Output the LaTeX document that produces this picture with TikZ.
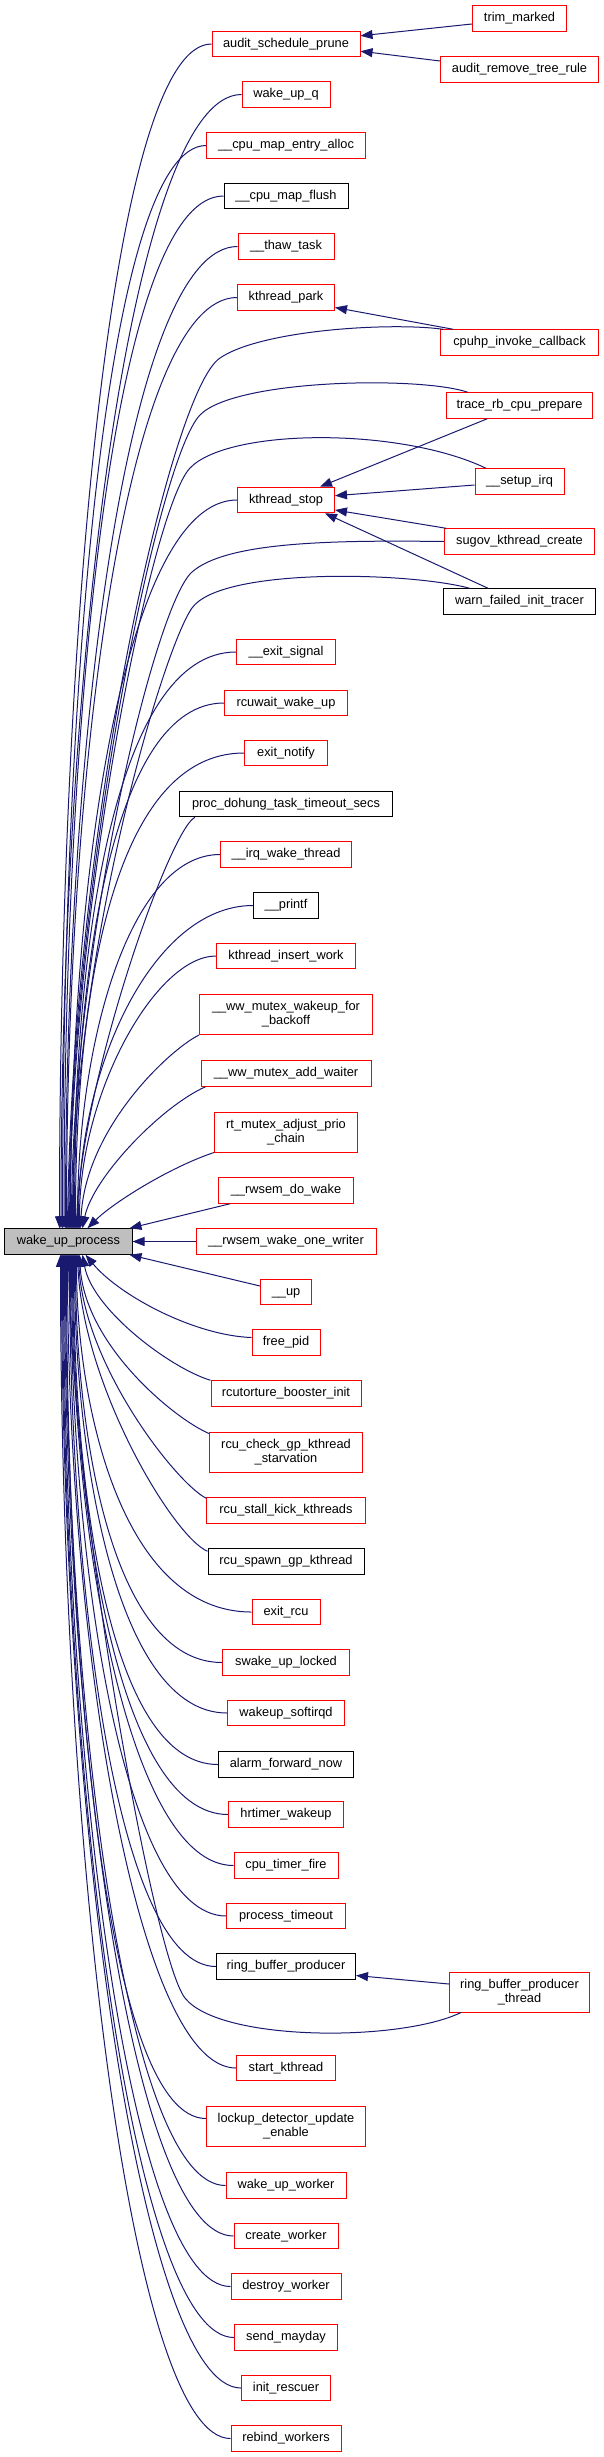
\documentclass[tikz,border=0pt]{standalone}
\usepackage{fontspec}
\setmainfont{Liberation Sans}
\usetikzlibrary{arrows.meta,calc}
\definecolor{edgeblue}{HTML}{191970}
\definecolor{boxred}{HTML}{FF0000}
\definecolor{rootgray}{HTML}{BFBFBF}
\newcommand\uped[4]{\draw[cg] (#1.west) .. controls +(-#3,0) and +(0,-#4) .. ([xshift=#2pt]wake.north west);}
\newcommand\dned[4]{\draw[cg] (#1.west) .. controls +(-#3,0) and +(0,#4) .. ([xshift=#2pt]wake.south west);}
\begin{document}
\begin{tikzpicture}[x=1pt,y=-1pt,
  basebox/.style={inner sep=0pt, line width=1pt, fill=white, font=\fontsize{12.8}{14}\selectfont},
  onebox/.style={basebox, minimum height=25.5pt, text height=9.3pt, text depth=2.7pt},
  twobox/.style={basebox, minimum height=40pt, align=center},
  rb/.style={draw=boxred},
  kb/.style={draw=black},
  cg/.style={draw=edgeblue, line width=1pt, -{Triangle[length=12pt,width=9pt]}},
]
\useasboundingbox (0,0) rectangle (604,2457);
% root
\node[onebox, draw=black, fill=rootgray, minimum width=127.3pt] (wake) at (68.35,1241.5) {wake\_up\_process};
% middle column
\node[onebox,rb,minimum width=148pt] (asp) at (286,44) {audit\_schedule\_prune};
\node[onebox,rb,minimum width=88pt] (wuq) at (286,94.5) {wake\_up\_q};
\node[onebox,rb,minimum width=158.5pt] (cmea) at (286,145.5) {\_\_cpu\_map\_entry\_alloc};
\node[onebox,kb,minimum width=124pt] (cmf) at (286,196) {\_\_cpu\_map\_flush};
\node[onebox,rb,minimum width=96pt] (thaw) at (286,246.5) {\_\_thaw\_task};
\node[onebox,rb,minimum width=97pt] (kpark) at (286,297.5) {kthread\_park};
\node[onebox,rb,minimum width=97pt] (kstop) at (286,500) {kthread\_stop};
\node[onebox,rb,minimum width=99pt] (exsig) at (286,652) {\_\_exit\_signal};
\node[onebox,rb,minimum width=123pt] (rcuw) at (286,703) {rcuwait\_wake\_up};
\node[onebox,rb,minimum width=83pt] (exnot) at (286,753) {exit\_notify};
\node[onebox,kb,minimum width=213pt] (pdh) at (286,804) {proc\_dohung\_task\_timeout\_secs};
\node[onebox,rb,minimum width=131pt] (irqw) at (286,854.5) {\_\_irq\_wake\_thread};
\node[onebox,kb,minimum width=65pt] (printf) at (286,905.5) {\_\_printf};
\node[onebox,rb,minimum width=139pt] (kiw) at (286,956) {kthread\_insert\_work};
\node[twobox,rb,minimum width=173pt] (wwwb) at (286,1014.5) {\_\_ww\_mutex\_wakeup\_for\\\_backoff};
\node[onebox,rb,minimum width=170pt] (wwaw) at (286,1073.5) {\_\_ww\_mutex\_add\_waiter};
\node[twobox,rb,minimum width=143pt] (rtm) at (286,1132) {rt\_mutex\_adjust\_prio\\\_chain};
\node[onebox,rb,minimum width=135pt] (rdw) at (286,1190.5) {\_\_rwsem\_do\_wake};
\node[onebox,rb,minimum width=180pt] (rwow) at (286,1241.5) {\_\_rwsem\_wake\_one\_writer};
\node[onebox,rb,minimum width=51pt] (up) at (286,1292) {\_\_up};
\node[onebox,rb,minimum width=68pt] (fpid) at (286,1342.5) {free\_pid};
\node[onebox,rb,minimum width=150pt] (rbi) at (286,1393.5) {rcutorture\_booster\_init};
\node[twobox,rb,minimum width=153pt] (rcgk) at (286,1452) {rcu\_check\_gp\_kthread\\\_starvation};
\node[onebox,rb,minimum width=158.5pt] (rskk) at (286,1510.5) {rcu\_stall\_kick\_kthreads};
\node[onebox,kb,minimum width=156pt] (rsgk) at (286,1561.5) {rcu\_spawn\_gp\_kthread};
\node[onebox,rb,minimum width=68pt] (exrcu) at (286,1612) {exit\_rcu};
\node[onebox,rb,minimum width=127pt] (swul) at (286,1662.5) {swake\_up\_locked};
\node[onebox,rb,minimum width=117pt] (wsirq) at (286,1713) {wakeup\_softirqd};
\node[onebox,kb,minimum width=135pt] (afn) at (286,1764.5) {alarm\_forward\_now};
\node[onebox,rb,minimum width=115pt] (hrw) at (286,1814.5) {hrtimer\_wakeup};
\node[onebox,rb,minimum width=104pt] (ctf) at (286,1865.5) {cpu\_timer\_fire};
\node[onebox,rb,minimum width=118.5pt] (pto) at (286,1916) {process\_timeout};
\node[onebox,kb,minimum width=139pt] (rbp) at (286,1966.5) {ring\_buffer\_producer};
\node[onebox,rb,minimum width=99pt] (sk) at (286,2068) {start\_kthread};
\node[twobox,rb,minimum width=159pt] (lde) at (286,2126.5) {lockup\_detector\_update\\\_enable};
\node[onebox,rb,minimum width=120pt] (wuw) at (286,2185.5) {wake\_up\_worker};
\node[onebox,rb,minimum width=104pt] (cw) at (286,2236) {create\_worker};
\node[onebox,rb,minimum width=110pt] (dw) at (286,2286.5) {destroy\_worker};
\node[onebox,rb,minimum width=103pt] (sm) at (286,2337.5) {send\_mayday};
\node[onebox,rb,minimum width=89pt] (ir) at (286,2388) {init\_rescuer};
\node[onebox,rb,minimum width=110pt] (rw) at (286,2438.5) {rebind\_workers};
% right column
\node[onebox,rb,minimum width=94.3pt] (trim) at (519.5,18.5) {trim\_marked};
\node[onebox,rb,minimum width=158pt] (arr) at (519.5,69.5) {audit\_remove\_tree\_rule};
\node[onebox,rb,minimum width=158pt] (cpuhp) at (519.5,342.5) {cpuhp\_invoke\_callback};
\node[onebox,rb,minimum width=146.5pt] (trbp) at (519.5,405.5) {trace\_rb\_cpu\_prepare};
\node[onebox,rb,minimum width=89pt] (sirq) at (519.5,481.5) {\_\_setup\_irq};
\node[onebox,rb,minimum width=150pt] (sugov) at (519.5,541.5) {sugov\_kthread\_create};
\node[onebox,kb,minimum width=152pt] (warn) at (519.5,601.5) {warn\_failed\_init\_tracer};
\node[twobox,rb,minimum width=140pt] (rbpt) at (519.5,1992) {ring\_buffer\_producer\\\_thread};
% right-to-middle edges
\draw[cg] ($(trim.west)+(0,5.5)$) -- ($(asp.east)+(0,-8.2)$);
\draw[cg] ($(arr.west)+(0,-8.5)$) -- ($(asp.east)+(0,7.2)$);
\draw[cg] ($(cpuhp.north west)+(13,0)$) -- ($(kpark.east)+(0,10)$);
\draw[cg] ($(trbp.south west)+(41.5,0)$) -- ($(kstop.north east)+(-15,0)$);
\draw[cg] ($(sirq.west)+(0,3.5)$) -- ($(kstop.east)+(0,-4.3)$);
\draw[cg] ($(sugov.north west)+(2,0)$) -- ($(kstop.east)+(0,10)$);
\draw[cg] ($(warn.north west)+(45,0)$) -- ($(kstop.south east)+(-10,0)$);
\draw[cg] ($(rbpt.west)+(0,-8)$) -- ($(rbp.east)+(0,9)$);
% right column to root
\draw[cg] ($(cpuhp.north west)+(3,0)$) .. controls (390,322) and (261,330) .. (220,358) .. controls (170,391) and (73,829) .. ([xshift=63.3pt]wake.north west);
\draw[cg] ($(trbp.north west)+(22,0)$) .. controls (420,376) and (235,379) .. (200,415) .. controls (158,458) and (72,879) .. ([xshift=64.3pt]wake.north west);
\draw[cg] ($(sirq.north west)+(11.5,0)$) .. controls (400,427) and (228.5,428) .. (190,468) .. controls (152,508) and (72,900) .. ([xshift=65.3pt]wake.north west);
\draw[cg] (sugov.west) .. controls (330,540) and (226,542) .. (192,572) .. controls (154.5,605) and (72,950) .. ([xshift=67.3pt]wake.north west);
\draw[cg] ($(warn.north west)+(26.5,0)$) .. controls (410,572) and (221,567) .. (192,608) .. controls (163,649) and (73,950) .. ([xshift=68.3pt]wake.north west);
\draw[cg] ($(rbpt.south west)+(12,0)$) .. controls (400,2042) and (220,2042) .. (185,1998) .. controls (153,1958) and (72,1500) .. ([xshift=64.3pt]wake.south west);
% upper middle to root
\uped{asp}{55.3}{100}{592}
\uped{wuq}{56.8}{110}{567}
\uped{cmea}{58.3}{100}{542}
\uped{cmf}{59.8}{110}{516}
\uped{thaw}{61.3}{110}{491}
\uped{kpark}{62.3}{110}{466}
\uped{kstop}{66.3}{110}{364}
\uped{exsig}{69.3}{120}{288}
\uped{rcuw}{70.3}{110}{263}
\uped{exnot}{71.3}{130}{238}
\draw[cg] ($(pdh.south west)+(16,0)$) .. controls +(-25,12) and +(5,-150) .. ([xshift=72.3pt]wake.north west);
\uped{irqw}{73.3}{90}{187}
\uped{printf}{74.3}{100}{162}
\uped{kiw}{75.3}{60}{136}
\draw[cg] (wwwb.south west) .. controls +(-30,15) and +(5,-100) .. ([xshift=76.3pt]wake.north west);
\draw[cg] ($(wwaw.south west)+(5,0)$) .. controls +(-45,20) and +(10,-50) .. ([xshift=78.3pt]wake.north west);
\draw[cg] (rtm.south west) .. controls +(-45,15) and +(25,-25) .. ([xshift=83.3pt]wake.north west);
\draw[cg] ($(rdw.south west)+(12,0)$) -- ($(wake.north east)+(-3,0)$);
\draw[cg] (rwow.west) -- (wake.east);
% lower middle to root
\draw[cg] ($(up.west)+(0,-6)$) -- ($(wake.south east)+(-3,0)$);
\draw[cg] ($(fpid.west)+(0,-5)$) .. controls +(-57,-2) and +(34,41) .. ([xshift=81.3pt]wake.south west);
\draw[cg] (rbi.north west) .. controls +(-40,-12) and +(10,55) .. ([xshift=78.3pt]wake.south west);
\draw[cg] ($(rcgk.north west)+(0,2)$) .. controls +(-35,-15) and +(5,90) .. ([xshift=75.3pt]wake.south west);
\draw[cg] ($(rskk.north west)+(0,1)$) .. controls +(-30,-15) and +(5,110) .. ([xshift=74.3pt]wake.south west);
\draw[cg] ($(rsgk.north west)+(0,3)$) .. controls +(-35,-15) and +(5,130) .. ([xshift=73.3pt]wake.south west);
\dned{exrcu}{72.3}{130}{150}
\dned{swul}{71.3}{110}{180}
\dned{wsirq}{70.3}{110}{205}
\dned{afn}{69.3}{110}{230}
\dned{hrw}{68.3}{110}{255}
\dned{ctf}{67.3}{105}{280}
\dned{pto}{66.3}{105}{300}
\dned{rbp}{65.3}{100}{330}
\dned{sk}{63.3}{100}{380}
\draw[cg] ($(lde.west)+(0,-8)$) .. controls +(-100,0) and +(0,410) .. ([xshift=62.3pt]wake.south west);
\dned{wuw}{61.3}{100}{450}
\dned{cw}{60.3}{100}{491}
\dned{dw}{59.3}{100}{516}
\dned{sm}{58.3}{100}{542}
\dned{ir}{57.3}{100}{567}
\dned{rw}{56.3}{100}{592}
\end{tikzpicture}
\end{document}
